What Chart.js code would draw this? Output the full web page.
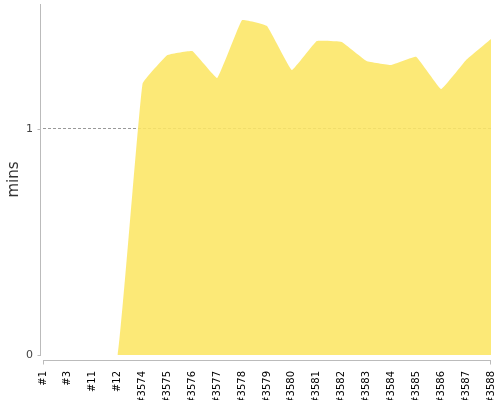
<!DOCTYPE html>
<html>
<head>
<meta charset="utf-8">
<script src="https://cdn.jsdelivr.net/npm/chart.js@4"></script>
<style>
  body { margin: 0; background: #fff; }
  #wrap { width: 500px; height: 400px; }
</style>
</head>
<body>
<div id="wrap"><canvas id="myChart" width="500" height="400"></canvas></div>
<script>
const builds = ["#1", "#3", "#11", "#12", "#3574", "#3575", "#3576", "#3577", "#3578", "#3579",
                "#3580", "#3581", "#3582", "#3583", "#3584", "#3585", "#3586", "#3587", "#3588"];
const durations = [0, 0, 0, 0, 1.2, 1.327, 1.345, 1.226, 1.482, 1.456,
                   1.261, 1.389, 1.385, 1.301, 1.283, 1.319, 1.177, 1.305, 1.398];
const yTicks = [0, 1];
const yTitle = "mins";

// axis lines sit a few px off the plot area, like the original
const axisLines = {
  id: 'axisLines',
  afterDraw(chart) {
    const c = chart.ctx, a = chart.chartArea, y = chart.scales.y;
    c.save();
    c.strokeStyle = '#bbb';
    c.lineWidth = 1;
    c.beginPath();
    const ax = Math.round(a.left - 3) + 0.5;
    c.moveTo(ax, a.top);
    c.lineTo(ax, a.bottom + 1);
    yTicks.forEach(v => {
      const py = Math.round(y.getPixelForValue(v)) + 0.5;
      c.moveTo(ax - 3, py);
      c.lineTo(ax, py);
    });
    const by = Math.round(a.bottom + 5) + 0.5;
    c.moveTo(a.left, by);
    c.lineTo(a.right, by);
    c.moveTo(Math.round(a.left) + 0.5, by);
    c.lineTo(Math.round(a.left) + 0.5, by + 4);
    c.moveTo(Math.round(a.right) - 0.5, by);
    c.lineTo(Math.round(a.right) - 0.5, by + 4);
    c.stroke();
    c.restore();
  }
};

// no extra room for edge labels, the plot runs to the canvas edge
const noPad = s => {
  s.paddingTop = 0; s.paddingBottom = 0;
  s.paddingLeft = 0; s.paddingRight = 0;
};

const ctx = document.getElementById('myChart').getContext('2d');

window.s3Chart = new Chart(ctx, {
  type: 'line',
  data: {
    labels: builds,
    datasets: [{
      label: yTitle,
      data: durations,
      fill: 'origin',
      backgroundColor: 'rgba(252, 230, 100, 0.88)',
      borderWidth: 0,
      pointRadius: 0,
      tension: 0.08
    }]
  },
  options: {
    responsive: false,
    animation: false,
    layout: { padding: { top: 4, right: 9, left: 0, bottom: 0 } },
    plugins: { legend: { display: false }, tooltip: { enabled: false } },
    scales: {
      x: {
        offset: false,
        border: { display: false },
        grid: { display: false },
        afterFit: s => { s.height = 45; noPad(s); },
        ticks: {
          autoSkip: false,
          minRotation: 90,
          maxRotation: 90,
          padding: 8,
          color: '#000',
          font: { family: 'DejaVu Sans', size: 10 }
        }
      },
      y: {
        min: 0,
        max: 1.553,
        afterFit: s => { s.width = 43; noPad(s); },
        afterBuildTicks: s => { s.ticks = yTicks.map(v => ({ value: v })); },
        grid: {
          drawTicks: false,
          color: ctx => ctx.tick && ctx.tick.value === 1 ? '#999' : 'transparent',
          lineWidth: 1
        },
        border: { display: false, dash: [3, 2] },
        ticks: {
          padding: 10,
          color: '#444',
          font: { family: 'DejaVu Sans', size: 11 }
        },
        title: {
          display: true,
          text: yTitle,
          color: '#333',
          padding: { top: 5, bottom: 8 },
          font: { family: 'DejaVu Sans', size: 15 }
        }
      }
    }
  },
  plugins: [axisLines]
});
</script>
</body>
</html>
